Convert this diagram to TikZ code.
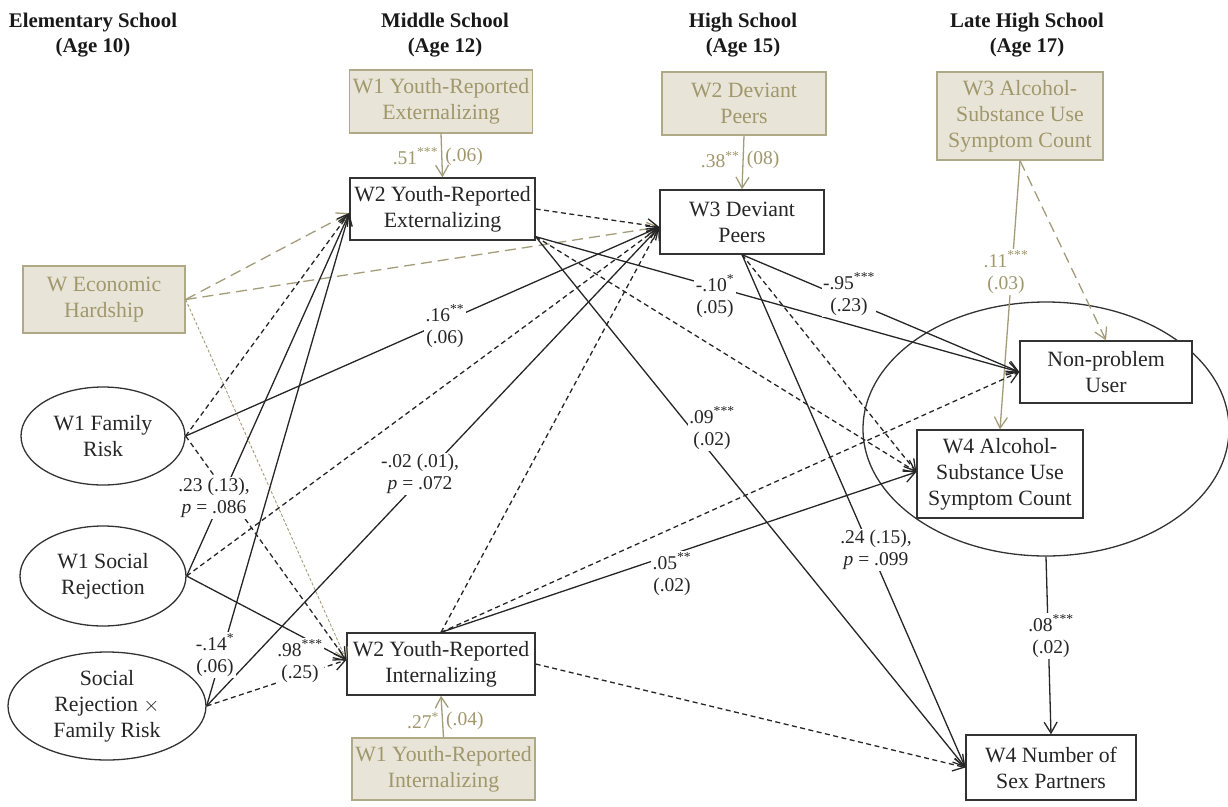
\documentclass[tikz,border=0pt]{standalone}
\usepackage{fontspec}
\setmainfont{Liberation Serif}
\usetikzlibrary{arrows.meta,shapes.geometric}
\definecolor{khfill}{HTML}{E8E5D8}
\definecolor{khdraw}{HTML}{B0A988}
\definecolor{khtext}{HTML}{A0976C}
\definecolor{khline}{HTML}{A39C7A}
\begin{document}
\begin{tikzpicture}[x=1pt,y=-1pt,
 every node/.style={inner sep=0pt, align=center},
 bfont/.style={font=\fontsize{21.8}{26}\selectfont},
 sbox/.style={draw=black!80, line width=1.3pt, fill=white, bfont, text=black!85},
 gbox/.style={draw=khdraw, line width=1.3pt, fill=khfill, bfont, text=khtext},
 lat/.style={draw=black!80, line width=1.3pt, ellipse, bfont, text=black!85},
 ttl/.style={font=\fontsize{20.8}{25}\bfseries\selectfont, text=black!90},
 lab/.style={fill=white, inner sep=1.5pt, font=\fontsize{19.5}{22}\selectfont, text=black!85},
 glab/.style={font=\fontsize{19.5}{22}\selectfont, text=khtext},
 arr/.style={-{Straight Barb[length=11pt,width=13pt]}, line width=1.3pt, draw=black!85},
 sol/.style={arr},
 dsh/.style={arr, dash pattern=on 5pt off 3.5pt},
 gsol/.style={arr, draw=khline},
 gdsh/.style={arr, draw=khline, dash pattern=on 11pt off 6pt},
 gdot/.style={arr, draw=khline, line width=0.9pt, dash pattern=on 3pt off 2pt},
]
\useasboundingbox (0,0) rectangle (1228,806);

% titles
\node[ttl] (t1) at (93,35) {Elementary School\\(Age 10)};
\node[ttl] (t2) at (445,35) {Middle School\\(Age 12)};
\node[ttl] (t3) at (743,35) {High School\\(Age 15)};
\node[ttl] (t4) at (1027,35) {Late High School\\(Age 17)};

% big ellipse
\node[lat, minimum width=366pt, minimum height=254pt] (cls) at (1046,429) {};

% boxes
\node[gbox, minimum width=183pt, minimum height=63pt] (W1Ext) at (441,101.5) {W1 Youth-Reported\\Externalizing};
\node[sbox, minimum width=185pt, minimum height=62pt] (W2Ext) at (442.5,209) {W2 Youth-Reported\\Externalizing};
\node[gbox, minimum width=164pt, minimum height=63pt] (W2DP) at (744,103.5) {W2 Deviant\\Peers};
\node[sbox, minimum width=164pt, minimum height=64pt] (W3DP) at (742,222) {W3 Deviant\\Peers};
\node[gbox, minimum width=166pt, minimum height=88pt] (W3Alc) at (1020,116) {W3 Alcohol-\\Substance Use\\Symptom Count};
\node[gbox, minimum width=162pt, minimum height=67pt] (Econ) at (104,299.5) {W Economic\\Hardship};
\node[lat, minimum width=164pt, minimum height=98pt] (FR) at (103,436) {W1 Family\\Risk};
\node[lat, minimum width=166pt, minimum height=100pt] (SR) at (103,576) {W1 Social\\Rejection};
\node[lat, minimum width=198pt, minimum height=108pt] (SRFR) at (107,706) {Social\\Rejection $\times$\\Family Risk};
\node[sbox, minimum width=188pt, minimum height=62pt] (W2Int) at (441,664) {W2 Youth-Reported\\Internalizing};
\node[gbox, minimum width=183pt, minimum height=62pt] (W1Int) at (443.5,769) {W1 Youth-Reported\\Internalizing};
\node[sbox, minimum width=172pt, minimum height=62pt] (NPU) at (1106,372) {Non-problem\\User};
\node[sbox, minimum width=166pt, minimum height=88pt] (W4Alc) at (1000,474) {W4 Alcohol-\\Substance Use\\Symptom Count};
\node[sbox, minimum width=170pt, minimum height=65pt] (W4NSP) at (1051,767.5) {W4 Number of\\Sex Partners};

% connection points
\coordinate (extIn) at ([yshift=-4pt]W2Ext.west);
\coordinate (extOut) at ([yshift=4pt]W2Ext.south east);
\coordinate (dpIn) at ([yshift=-5pt]W3DP.west);
\coordinate (intIn) at ([yshift=4pt]W2Int.west);
\coordinate (alcIn) at ([yshift=2pt]W4Alc.west);

% control paths
\draw[gsol] (W1Ext.south) -- (W2Ext.north)
  node[glab, pos=0.52, left=3pt] (l51) {.51\textsuperscript{***}}
  node[glab, pos=0.52, right=3pt] (l06) {(.06)};
\draw[gsol] (W2DP.south) -- (W3DP.north)
  node[glab, pos=0.45, left=3pt] (l38) {.38\textsuperscript{**}}
  node[glab, pos=0.45, right=3pt] (l08) {(08)};
\draw[gsol] (W1Int.north) -- (W2Int.south)
  node[glab, pos=0.4, left=3pt] (l27) {.27\textsuperscript{*}}
  node[glab, pos=0.4, right=3pt] (l04) {(.04)};
\draw[gdsh] (Econ.east) -- (extIn);
\draw[gdsh] (Econ.east) -- (dpIn);
\draw[gdot] (Econ.east) -- (intIn);
\draw[gsol] (W3Alc.south) -- (W4Alc.north);
\draw[gdsh] (W3Alc.south) -- (NPU.north);

% into W2 externalizing
\draw[dsh] (FR.east) -- (extIn);
\draw[sol] (SR.east) -- (extIn);
\draw[sol] (SRFR.east) -- (extIn);
% into W2 internalizing
\draw[dsh] (FR.east) -- (intIn);
\draw[sol] (SR.east) -- (intIn);
\draw[dsh] (SRFR.east) -- (intIn);
% into W3 deviant peers
\draw[sol] (FR.east) -- (dpIn);
\draw[dsh] (SR.east) -- (dpIn);
\draw[sol] (SRFR.east) -- (dpIn);
\draw[dsh] (W2Ext.east) -- (dpIn);
\draw[dsh] (W2Int.north) -- (dpIn);
% outcomes
\draw[sol] (extOut) -- (NPU.west);
\draw[sol] (extOut) -- (W4NSP.west);
\draw[dsh] (extOut) -- (alcIn);
\draw[sol] (W3DP.south) -- (NPU.west);
\draw[sol] (W3DP.south) -- (W4NSP.west);
\draw[dsh] (W3DP.south) -- (alcIn);
\draw[dsh] (W2Int.north) -- (NPU.west);
\draw[sol] (W2Int.north) -- (alcIn);
\draw[dsh] (W2Int.east) -- (W4NSP.west);
\draw[sol] (cls.south) -- (W4NSP.north);

% coefficient labels
\node[lab] (c16) at (445,326) {.16\textsuperscript{**}\\(.06)};
\node[lab] (c23) at (214,498) {.23 (.13),\\\textit{p} = .086};
\node[lab] (c14) at (215,655) {-.14\textsuperscript{*}\\(.06)};
\node[lab] (c98) at (300,661) {.98\textsuperscript{***}\\(.25)};
\node[lab] (c02) at (420,474) {-.02 (.01),\\\textit{p} = .072};
\node[lab] (c10) at (715,296) {-.10\textsuperscript{*}\\(.05)};
\node[lab] (c09) at (712,428) {.09\textsuperscript{***}\\(.02)};
\node[lab] (c95) at (849,294) {-.95\textsuperscript{***}\\(.23)};
\node[lab] (c24) at (876,550) {.24 (.15),\\\textit{p} = .099};
\node[lab] (c05) at (672,574) {.05\textsuperscript{**}\\(.02)};
\node[lab] (c08) at (1051,636) {.08\textsuperscript{***}\\(.02)};
\node[lab, text=khtext] (c11) at (1006,272) {.11\textsuperscript{***}\\(.03)};
\end{tikzpicture}
\end{document}
